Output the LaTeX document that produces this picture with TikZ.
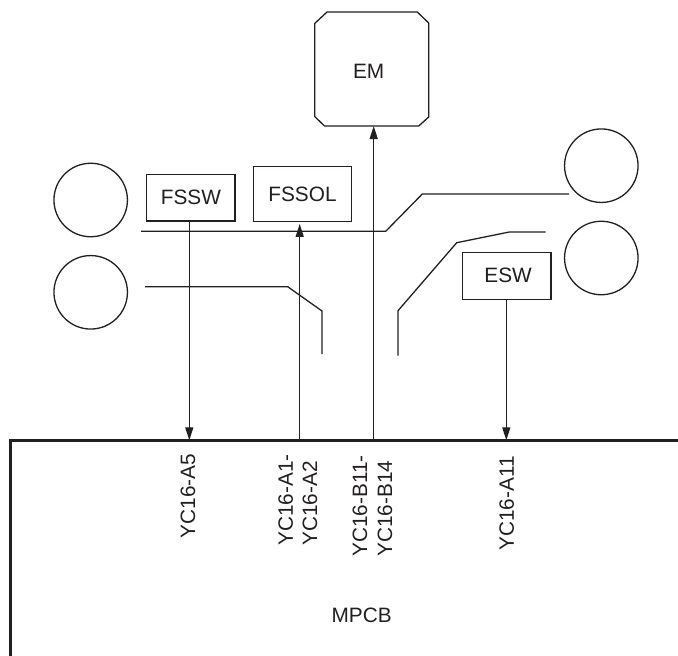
\documentclass[tikz,border=0pt]{standalone}
\usepackage{fontspec}
\setmainfont{Liberation Sans}
\usetikzlibrary{arrows.meta,calc}
\definecolor{ink}{RGB}{35,31,32}
\tikzset{
  x=1pt,y=-1pt,
  every node/.style={text=ink},
  lbl/.style={font=\fontsize{20.8}{24}\selectfont},
  wire/.style={draw=ink,line width=1.3pt},
  conn/.style={wire,-{Triangle[length=13pt,width=8pt]}},
  devbox/.style={draw=ink,line width=1.3pt,inner sep=0pt,lbl},
  roller/.style={draw=ink,line width=1.3pt,circle,minimum size=73.5pt,inner sep=0pt},
  pin/.style={rotate=90,anchor=base west,inner sep=0pt,lbl},
  board/.style={draw=ink,line width=2.8pt},
}
\begin{document}
\begin{tikzpicture}
\useasboundingbox (0,0) rectangle (678,656);
% rollers
\node[roller] (r1) at (90.7,200) {};
\node[roller] (r2) at (90.7,292.3) {};
\node[roller] (r3) at (601.3,165.7) {};
\node[roller] (r4) at (601.3,258) {};
% board
\draw[board] (10.6,656) -- (10.6,440.3) -- (678,440.3);
\coordinate (emb) at (373.7,440.3);
\coordinate (fsb) at (189.3,440.3);
\coordinate (fob) at (299.7,440.3);
\coordinate (esb) at (506.3,440.3);
% boxes
\draw[wire,line join=miter] (327,12) -- (417.3,12) -- (428.7,23) -- (428.7,117) -- (418.7,126) -- (324.5,126) -- (314.7,116.5) -- (314.7,23.5) -- cycle;
\coordinate (emin) at (373.7,126);
\node[lbl] (em) at (368.7,71.3) {EM};
\node[devbox,minimum width=88.3pt,minimum height=46.7pt] (fssw) at (190.85,197.7) {FSSW};
\node[devbox,minimum width=98.4pt,minimum height=54.6pt] (fssol) at (302.5,194) {FSSOL};
\node[devbox,minimum width=88.7pt,minimum height=47pt] (esw) at (506.65,275.8) {\hspace*{3pt}ESW};
% media paths
\coordinate (a1) at (141,231.3); \coordinate (a2) at (385.7,231.3); \coordinate (a3) at (422.3,194); \coordinate (a4) at (569,194);
\draw[wire] (a1) -- (a2) -- (a3) -- (a4);
\coordinate (b1) at (145,286.7); \coordinate (b2) at (287.7,286.7); \coordinate (b3) at (322,311); \coordinate (b4) at (322,354);
\draw[wire] (b1) -- (b2) -- (b3) -- (b4);
\coordinate (c1) at (398,355.7); \coordinate (c2) at (398,310.7); \coordinate (c3) at (456.7,242.7); \coordinate (c4) at (509.3,232); \coordinate (c5) at (545.7,232);
\draw[wire] (c1) -- (c2) -- (c3) -- (c4) -- (c5);
% connectors
\draw[conn] (fssw.south -| fsb) -- (fsb);
\draw[conn] (esb |- esw.south) -- (esb);
\draw[conn] (fob) -- ($(fob |- fssol.south)+(0,2)$);
\draw[conn] (emb) -- (emin);
% labels
\node[pin] (l1) at (195.2,538.3) {YC16-A5};
\node[pin] (l2a) at (292.8,546) {YC16-A1-};
\node[pin] (l2b) at (317.2,546) {YC16-A2};
\node[pin] (l3a) at (367.2,556.7) {YC16-B11-};
\node[pin] (l3b) at (392.2,556.7) {YC16-B14};
\node[pin] (l4) at (513.8,550.7) {YC16-A11};
\node[lbl] (mpcb) at (361.7,615) {MPCB};
\end{tikzpicture}
\end{document}
